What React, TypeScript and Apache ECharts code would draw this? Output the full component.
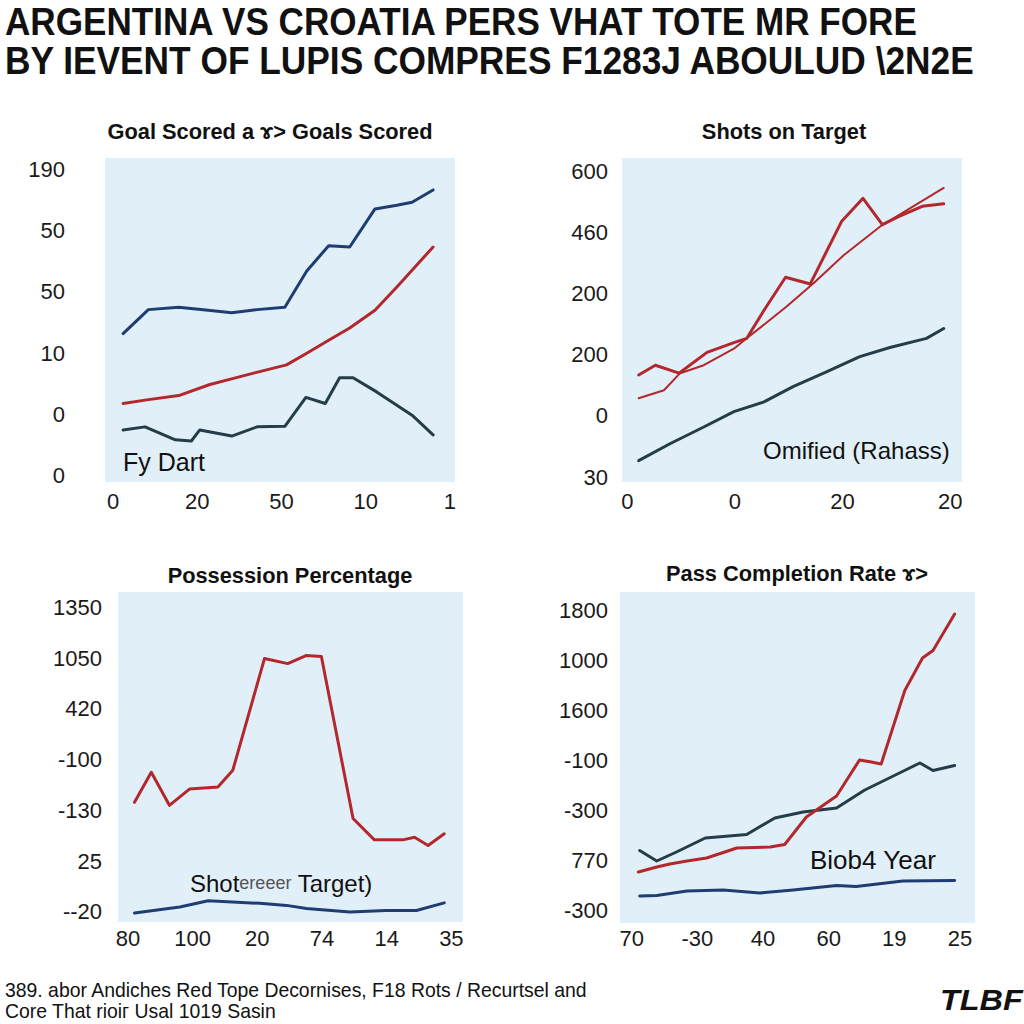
import React, { useEffect, useRef } from "react";
import * as echarts from "echarts";

// ---- Header / footer texts
const headerLine1 = "ARGENTINA VS CROATIA PERS VHAT TOTE MR FORE";
const headerLine2 = "BY IEVENT OF LUPIS COMPRES F1283J ABOULUD \\2N2E";
const footerLine1 = "389. abor Andiches Red Tope Decornises, F18 Rots / Recurtsel and";
const footerLine2 = "Core That rioiг Usal 1019 Sasin";
const brand = "TLBF";

// ---- Panel titles
const titles = [
  "Goal Scored a ɤ> Goals Scored",
  "Shots on Target",
  "Possession Percentage",
  "Pass Completion Rate ɤ>",
];

// ---- Tick labels (bottom to top for y, left to right for x)
const p1XLabels = ["0", "20", "50", "10", "1"];
const p1YLabels = ["0", "0", "10", "50", "50", "190"];
const p2XLabels = ["0", "0", "20", "20"];
const p2YLabels = ["30", "0", "200", "200", "460", "600"];
const p3XLabels = ["80", "100", "20", "74", "14", "35"];
const p3YLabels = ["--20", "25", "-130", "-100", "420", "1050", "1350"];
const p4XLabels = ["70", "-30", "40", "60", "19", "25"];
const p4YLabels = ["-300", "770", "-300", "-100", "1600", "1000", "1800"];

// ---- Series data [x, y] in tick-index units
const p1Blue = [[0.12, 2.32], [0.42, 2.71], [0.78, 2.75], [1.13, 2.7], [1.41, 2.66], [1.71, 2.71], [2.04, 2.75], [2.3, 3.34], [2.56, 3.75], [2.81, 3.73], [3.11, 4.35], [3.37, 4.41], [3.55, 4.46], [3.8, 4.66]];
const p1Red = [[0.12, 1.18], [0.4, 1.24], [0.78, 1.31], [1.15, 1.49], [1.43, 1.59], [1.74, 1.7], [2.06, 1.81], [2.3, 2.0], [2.56, 2.21], [2.81, 2.41], [3.11, 2.7], [3.37, 3.08], [3.8, 3.73]];
const p1Dark = [[0.12, 0.75], [0.38, 0.8], [0.74, 0.59], [0.93, 0.57], [1.03, 0.75], [1.41, 0.65], [1.71, 0.8], [2.04, 0.81], [2.29, 1.28], [2.52, 1.18], [2.69, 1.6], [2.85, 1.6], [3.13, 1.37], [3.55, 0.99], [3.8, 0.67]];

const p2Red = [[0.105, 1.67], [0.26, 1.83], [0.48, 1.7], [0.74, 2.04], [0.99, 2.2], [1.11, 2.27], [1.27, 2.73], [1.47, 3.27], [1.7, 3.16], [1.99, 4.18], [2.19, 4.56], [2.37, 4.13], [2.52, 4.26], [2.74, 4.43], [2.94, 4.47]];
const p2Trend = [[0.105, 1.29], [0.34, 1.42], [0.49, 1.7], [0.71, 1.83], [0.99, 2.1], [1.11, 2.27], [1.48, 2.79], [1.73, 3.17], [2.01, 3.63], [2.35, 4.1], [2.94, 4.73]];
const p2Dark = [[0.105, 0.27], [0.4, 0.55], [0.71, 0.82], [0.99, 1.07], [1.27, 1.23], [1.54, 1.48], [1.85, 1.72], [2.16, 1.97], [2.44, 2.12], [2.78, 2.27], [2.94, 2.43]];

const p3Red = [[0.1, 2.16], [0.36, 2.75], [0.64, 2.1], [0.95, 2.42], [1.39, 2.46], [1.62, 2.79], [2.11, 4.99], [2.47, 4.89], [2.76, 5.05], [2.99, 5.03], [3.48, 1.84], [3.81, 1.42], [4.25, 1.42], [4.43, 1.47], [4.64, 1.31], [4.89, 1.54]];
const p3Blue = [[0.1, -0.02], [0.8, 0.1], [1.24, 0.22], [2.04, 0.17], [2.45, 0.13], [2.76, 0.07], [3.43, 0.0], [3.99, 0.03], [4.46, 0.03], [4.89, 0.18]];

const p4Red = [[0.1, 0.77], [0.38, 0.87], [0.58, 0.93], [0.84, 0.99], [1.14, 1.05], [1.6, 1.25], [2.11, 1.27], [2.33, 1.32], [2.66, 1.87], [3.12, 2.29], [3.47, 3.01], [3.65, 2.97], [3.8, 2.93], [4.16, 4.4], [4.43, 5.05], [4.59, 5.2], [4.92, 5.93]];
const p4Dark = [[0.12, 1.2], [0.38, 0.99], [0.68, 1.17], [1.12, 1.45], [1.75, 1.52], [2.18, 1.85], [2.61, 1.97], [3.12, 2.05], [3.55, 2.41], [4.11, 2.77], [4.39, 2.95], [4.59, 2.8], [4.92, 2.9]];
const p4Blue = [[0.12, 0.29], [0.38, 0.3], [0.84, 0.39], [1.39, 0.41], [1.95, 0.35], [2.46, 0.41], [3.12, 0.5], [3.42, 0.48], [4.13, 0.59], [4.92, 0.6]];

const annotations = ["Fy Dart", "Omified (Rahass)", "Biob4 Year"];

const FONT = '"Liberation Sans", Arial, sans-serif';
const BG = "#e1eff8";
const NAVY = "#1f3d72";
const RED = "#b3282c";
const DARK = "#253d48";

function idx(n: number) {
  return Array.from({ length: n }, (_, i) => i);
}

function axis(gridIndex: number, labels: string[], min: number, max: number, margin: number) {
  return {
    type: "value",
    gridIndex,
    min,
    max,
    axisLine: { show: false },
    axisTick: { show: false },
    splitLine: { show: false },
    axisLabel: {
      customValues: idx(labels.length),
      formatter: (v: number) => labels[Math.round(v)] ?? "",
      fontFamily: FONT,
      fontSize: 22,
      color: "#1a1a1a",
      margin,
    },
  };
}

function line(data: number[][], color: string, ax: number, width = 3) {
  return {
    type: "line",
    xAxisIndex: ax,
    yAxisIndex: ax,
    data,
    symbol: "none",
    smooth: false,
    lineStyle: { color, width, join: "round", cap: "round" },
  };
}

function text(x: number, y: number, t: string, font: string, align = "left", extra: any = {}) {
  return {
    type: "text",
    x,
    y,
    ...extra,
    style: { text: t, font, fill: "#111", textAlign: align, textVerticalAlign: "middle", verticalAlign: "middle" },
  };
}

export default function App() {
  const ref = useRef<HTMLDivElement>(null);
  useEffect(() => {
    if (!ref.current) return;
    const chart = echarts.init(ref.current, null, { renderer: "svg" });
    const gridBase = { show: true, backgroundColor: BG, borderWidth: 0, containLabel: false };
    chart.setOption({
      animation: false,
      backgroundColor: "#ffffff",
      grid: [
        { ...gridBase, left: 105, top: 158, width: 350, height: 324 },
        { ...gridBase, left: 622, top: 158, width: 340, height: 324 },
        { ...gridBase, left: 118, top: 592, width: 345, height: 330 },
        { ...gridBase, left: 620, top: 592, width: 355, height: 331 },
      ],
      xAxis: [
        axis(0, p1XLabels, -0.095, 4.06, 8),
        axis(1, p2XLabels, -0.05, 3.11, 8),
        axis(2, p3XLabels, -0.155, 5.18, 5),
        axis(3, p4XLabels, -0.18, 5.23, 4),
      ],
      yAxis: [
        axis(0, p1YLabels, -0.098, 5.18, 40),
        axis(1, p2YLabels, -0.08, 5.22, 14),
        axis(2, p3YLabels, -0.197, 6.3, 16),
        axis(3, p4YLabels, -0.25, 6.37, 12),
      ],
      series: [
        line(p1Blue, NAVY, 0),
        line(p1Red, RED, 0),
        line(p1Dark, DARK, 0),
        line(p2Trend, RED, 1, 2),
        line(p2Red, RED, 1, 3),
        line(p2Dark, DARK, 1),
        line(p3Red, RED, 2),
        line(p3Blue, NAVY, 2),
        line(p4Dark, DARK, 3),
        line(p4Red, RED, 3),
        line(p4Blue, NAVY, 3),
      ],
      graphic: [
        text(5, 21, headerLine1, `bold 39px ${FONT}`, "left", { scaleX: 0.9 }),
        text(5, 60, headerLine2, `bold 39px ${FONT}`, "left", { scaleX: 0.905 }),
        text(270, 131, titles[0], `bold 21.8px ${FONT}`, "center"),
        text(784, 131, titles[1], `bold 21.8px ${FONT}`, "center"),
        text(290, 575, titles[2], `bold 21.8px ${FONT}`, "center"),
        text(797, 573, titles[3], `bold 21.8px ${FONT}`, "center"),
        text(123, 462, annotations[0], `25px ${FONT}`),
        text(763, 450, annotations[1], `24px ${FONT}`),
        {
          type: "text",
          x: 190,
          y: 883,
          style: {
            text: "Shot{s|ereeer} Target)",
            font: `24px ${FONT}`,
            fill: "#111",
            textVerticalAlign: "middle",
            verticalAlign: "middle",
            rich: { s: { fontSize: 18, fontFamily: FONT, fill: "#555", color: "#555" } },
          },
        },
        text(810, 860, annotations[2], `26px ${FONT}`),
        text(5, 990, footerLine1, `20px ${FONT}`, "left", { scaleX: 0.97 }),
        text(5, 1011, footerLine2, `20px ${FONT}`, "left", { scaleX: 0.97 }),
        text(940, 1000, brand, `italic bold 30px ${FONT}`, "left", { scaleX: 1.08 }),
      ],
    });
    return () => chart.dispose();
  }, []);
  return (
    <div
      ref={ref}
      style={{ position: "absolute", left: 0, top: 0, width: 1024, height: 1024, background: "#fff" }}
    />
  );
}
